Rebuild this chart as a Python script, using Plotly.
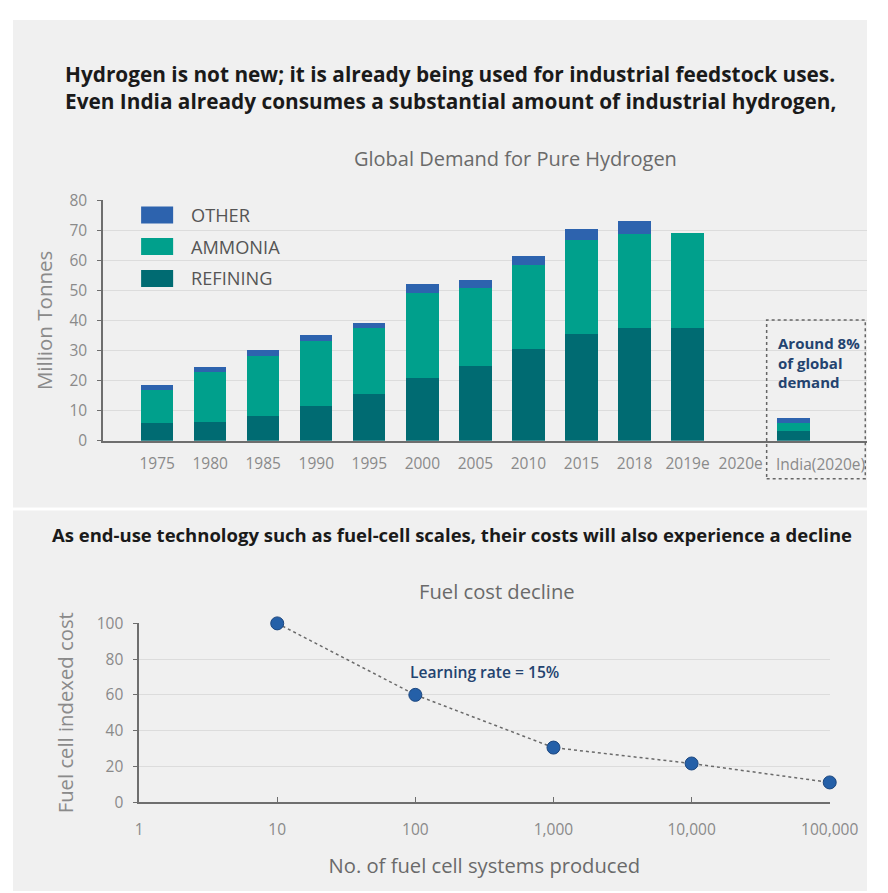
import plotly.graph_objects as go

# ---------------- data ----------------
categories = ["1975", "1980", "1985", "1990", "1995", "2000", "2005", "2010",
              "2015", "2018", "2019e", "2020e", "India(2020e)"]
refining = [5.9, 6.3, 8.2, 11.6, 15.5, 21.0, 25.0, 30.5, 35.4, 37.4, 37.4, None, 3.1]
ammonia = [10.8, 16.4, 20.1, 21.5, 21.9, 28.1, 25.8, 27.8, 31.3, 31.3, 31.8, None, 2.8]
other = [1.7, 1.8, 1.8, 2.0, 1.8, 2.9, 2.6, 3.2, 3.8, 4.2, None, None, 1.5]
axis_labels = ["1975", "1980", "1985", "1990", "1995", "2000", "2005", "2010",
               "2015", "2018", "2019e", "2020e"]

systems_produced = [10, 100, 1000, 10000, 100000]
indexed_cost = [100, 60, 30.5, 21.6, 11]
log_tick_vals = [1, 10, 100, 1000, 10000, 100000]
log_tick_text = ["1", "10", "100", "1,000", "10,000", "100,000"]

series_names = ["REFINING", "AMMONIA", "OTHER"]
series_colors = ["#006b72", "#00a08c", "#2d63ae"]

# ---------------- layout helpers ----------------
W, H = 888, 893
# map a screen position of the target picture to a paper fraction
def px(x):
    return min(max((x - 13) / 0.962 / W, 0), 1)
def py(y):
    return min(max(1 - (y - 19.6) / 0.977 / H, 0), 1)

PANEL = "#f0f0f0"
GRID = "#dcdcdc"
AXIS = "#6e6e6e"
TICK = "#8a8a8a"
TXT = "#6a6a6a"
NAVY = "#23436f"
FONT = "Open Sans"

fig = go.Figure()
for name, vals, col in zip(series_names, [refining, ammonia, other], series_colors):
    fig.add_trace(go.Bar(x=categories, y=vals, name=name, marker_color=col,
                         marker_line_width=0, width=0.61, showlegend=False,
                         xaxis="x", yaxis="y"))

fig.add_trace(go.Scatter(x=systems_produced, y=indexed_cost, mode="lines+markers",
                         line=dict(color="#6a6a6a", width=1.5, dash="dot"),
                         marker=dict(size=13, color="#2560a8",
                                     line=dict(color="#1b467f", width=1)),
                         showlegend=False, cliponaxis=False,
                         xaxis="x2", yaxis="y2"))

shapes = [
    dict(type="rect", xref="paper", yref="paper", x0=px(14), x1=1, y0=py(508), y1=1,
         fillcolor=PANEL, line_width=0, layer="below"),
    dict(type="rect", xref="paper", yref="paper", x0=px(14), x1=1, y0=0, y1=py(511),
         fillcolor=PANEL, line_width=0, layer="below"),
    dict(type="rect", xref="paper", yref="paper", x0=px(767), x1=0.998, y0=py(479), y1=py(320),
         line=dict(color="#666666", width=1.5, dash="dot"), fillcolor="rgba(0,0,0,0)"),
]
annotations = [
    dict(text="Hydrogen is not new; it is already being used for industrial feedstock uses.<br>"
              "Even India already consumes a substantial amount of industrial hydrogen,",
         xref="paper", yref="paper", x=px(64), y=py(87), xanchor="left", yanchor="middle",
         align="left", showarrow=False,
         font=dict(family=FONT, size=20.8, color="#1a1a1a", weight="bold")),
    dict(text="Global Demand for Pure Hydrogen", xref="paper", yref="paper",
         x=px(516), y=py(158), xanchor="center", yanchor="middle", showarrow=False,
         font=dict(family=FONT, size=20, color=TXT)),
    dict(text="India(2020e)", xref="paper", yref="paper", x=px(821), y=py(464),
         xanchor="center", yanchor="middle", showarrow=False,
         font=dict(family=FONT, size=15.5, color=TICK)),
    dict(text="Around 8%<br>of global<br>demand", xref="paper", yref="paper",
         x=px(776), y=py(363), xanchor="left", yanchor="middle", align="left",
         showarrow=False,
         font=dict(family=FONT, size=15, color=NAVY, weight="bold")),
    dict(text="As end-use technology such as fuel-cell scales, their costs will also experience a decline",
         xref="paper", yref="paper", x=px(51), y=py(535), xanchor="left", yanchor="middle",
         showarrow=False,
         font=dict(family=FONT, size=18.5, color="#1a1a1a", weight="bold")),
    dict(text="Fuel cost decline", xref="paper", yref="paper",
         x=px(498), y=py(592), xanchor="center", yanchor="middle", showarrow=False,
         font=dict(family=FONT, size=20.2, color=TXT)),
    dict(text="Learning rate = 15%", xref="x2", yref="y2", x=2.5, y=73,
         xanchor="center", yanchor="middle", showarrow=False,
         font=dict(family=FONT, size=15.6, color=NAVY, weight=600)),
]

# custom legend (large swatches)
legend_rows = [("OTHER", series_colors[2], 215), ("AMMONIA", series_colors[1], 246.5),
               ("REFINING", series_colors[0], 278.5)]
for label, col, yc in legend_rows:
    shapes.append(dict(type="rect", xref="paper", yref="paper", x0=px(142), x1=px(174),
                       y0=py(yc + 8.5), y1=py(yc - 8.5), fillcolor=col, line_width=0))
    annotations.append(dict(text=label, xref="paper", yref="paper", x=px(190), y=py(yc),
                            xanchor="left", yanchor="middle", showarrow=False,
                            font=dict(family=FONT, size=18.2, color="#555555")))

# category axis range so categories sit at the target positions
cat_x0 = px(104) * W
cat_x1 = 1.0 * W
def cat_value(fig_x):
    return (fig_x - (158 - 13) / 0.962) / (53 / 0.962)

fig.update_layout(
    width=W, height=H, margin=dict(l=0, r=0, t=0, b=0),
    paper_bgcolor="white", plot_bgcolor="rgba(0,0,0,0)",
    barmode="stack", bargap=0.39,
    font=dict(family=FONT, color=TICK),
    shapes=shapes, annotations=annotations,
    xaxis=dict(domain=[px(104), 1.0], type="category",
               range=[cat_value(cat_x0), cat_value(cat_x1)],
               tickmode="array", tickvals=axis_labels, ticktext=axis_labels,
               showgrid=False, showline=True, linecolor=AXIS, linewidth=1.5,
               ticks="", tickfont=dict(family=FONT, size=15.5, color=TICK),
               ticklabelstandoff=8, anchor="y", fixedrange=True),
    yaxis=dict(domain=[py(441), py(200)], range=[0, 80], dtick=10,
               showgrid=True, gridcolor=GRID, gridwidth=1, zeroline=False,
               showline=True, linecolor=AXIS, linewidth=1.5,
               ticks="outside", ticklen=4, tickcolor=AXIS,
               tickfont=dict(family=FONT, size=15.5, color=TICK), ticklabelstandoff=7,
               title=dict(text="Million Tonnes", font=dict(family=FONT, size=20.5, color=TICK),
                          standoff=11),
               anchor="x"),
    xaxis2=dict(domain=[px(140), px(830)], type="log", range=[0, 5],
                tickmode="array", tickvals=log_tick_vals, ticktext=log_tick_text,
                showgrid=False, showline=True, linecolor=AXIS, linewidth=1.5,
                ticks="inside", ticklen=5, tickcolor=AXIS,
                tickfont=dict(family=FONT, size=15.5, color=TICK), ticklabelstandoff=13,
                title=dict(text="No. of fuel cell systems produced",
                           font=dict(family=FONT, size=20.2, color=TXT), standoff=19),
                anchor="y2"),
    yaxis2=dict(domain=[py(803), py(624)], range=[0, 100], dtick=20,
                showgrid=True, gridcolor=GRID, gridwidth=1, zeroline=False,
                showline=True, linecolor=AXIS, linewidth=1.5,
                ticks="outside", ticklen=4, tickcolor=AXIS,
                tickfont=dict(family=FONT, size=15.5, color=TICK), ticklabelstandoff=7,
                title=dict(text="Fuel cell indexed cost", font=dict(family=FONT, size=20.3, color=TICK),
                           standoff=18),
                anchor="x2"),
)

fig.write_html("out.html")
